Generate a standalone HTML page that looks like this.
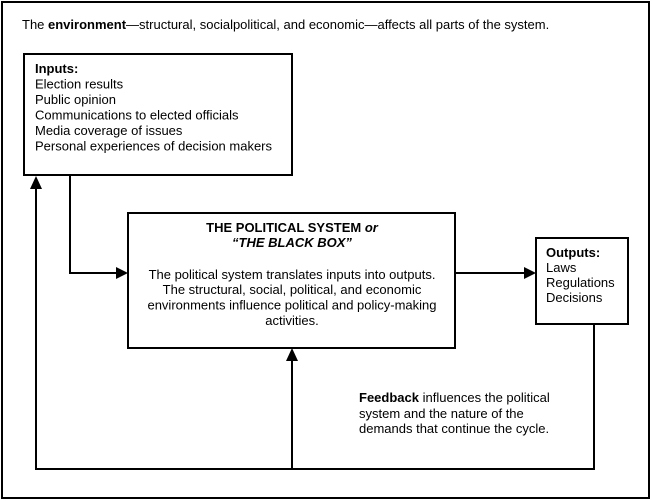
<!DOCTYPE html>
<html><head><meta charset="utf-8"><style>
html,body{margin:0;padding:0;background:#fff}
svg{display:block}
text{font-family:"Liberation Sans",Arial,sans-serif;font-size:13px;fill:#000}
.b{font-weight:bold}
</style></head><body>
<svg width="652" height="501" viewBox="0 0 652 501">
<rect x="2" y="2" width="647" height="496" fill="#fff" stroke="#000" stroke-width="2"/>
<text x="22" y="29">The <tspan class="b">environment</tspan>—structural, socialpolitical, and economic—affects all parts of the system.</text>
<rect x="24" y="54" width="268" height="121" fill="#fff" stroke="#000" stroke-width="2"/>
<g font-size="13.5">
<text x="35" y="73" class="b" font-size="13.5">Inputs:</text>
<text x="35" y="88.5" font-size="13.5">Election results</text>
<text x="35" y="104" font-size="13.5">Public opinion</text>
<text x="35" y="119.5" font-size="13.5">Communications to elected officials</text>
<text x="35" y="135" font-size="13.5">Media coverage of issues</text>
<text x="35" y="150.5" font-size="13.5">Personal experiences of decision makers</text>
</g>
<rect x="128" y="213" width="327" height="135" fill="#fff" stroke="#000" stroke-width="2"/>
<g text-anchor="middle">
<text x="292" y="232" class="b">THE POLITICAL SYSTEM <tspan font-style="italic">or</tspan></text>
<text x="292" y="247" class="b" font-style="italic">“THE BLACK BOX”</text>
<text x="292" y="279" font-size="13.4">The political system translates inputs into outputs.</text>
<text x="292" y="294" font-size="13.4">The structural, social, political, and economic</text>
<text x="292" y="309.5" font-size="13.4">environments influence political and policy-making</text>
<text x="292" y="325" font-size="13.4">activities.</text>
</g>
<rect x="536" y="238" width="92" height="86" fill="#fff" stroke="#000" stroke-width="2"/>
<text x="546" y="257" class="b">Outputs:</text>
<text x="546" y="272">Laws</text>
<text x="546" y="287">Regulations</text>
<text x="546" y="302">Decisions</text>
<text x="359" y="402"><tspan class="b">Feedback</tspan> influences the political</text>
<text x="359" y="418">system and the nature of the</text>
<text x="359" y="433">demands that continue the cycle.</text>
<g stroke="#000" stroke-width="2" fill="none">
<polyline points="70,175 70,273 118,273"/>
<line x1="455" y1="273" x2="526" y2="273"/>
<polyline points="594,324 594,469 36,469 36,188"/>
<line x1="292" y1="469" x2="292" y2="358"/>
</g>
<g fill="#000">
<polygon points="128,273 116,267 116,279"/>
<polygon points="536,273 524,267 524,279"/>
<polygon points="36,176 30,189 42,189"/>
<polygon points="292,348 286,361 298,361"/>
</g>
</svg>
</body></html>
